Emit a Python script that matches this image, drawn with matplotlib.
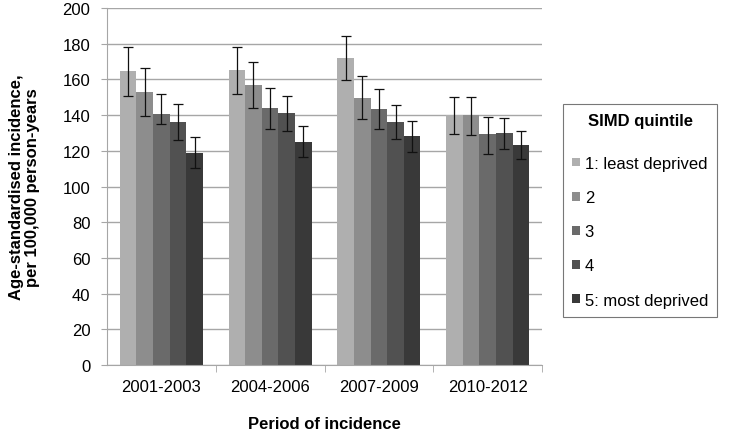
import numpy as np
import matplotlib.pyplot as plt

plt.rcParams['font.family'] = ['Liberation Sans', 'DejaVu Sans']

periods = ['2001-2003', '2004-2006', '2007-2009', '2010-2012']
quintiles = ['1: least deprived', '2', '3', '4', '5: most deprived']

# rows = quintile, columns = period
rate = [
    [164.5, 165.1, 171.8, 139.8],
    [152.7, 156.8, 149.7, 139.8],
    [140.4, 144.1, 143.4, 129.2],
    [136.1, 141.0, 136.1, 129.7],
    [118.7, 125.0, 128.2, 123.2],
]
ci_low = [
    [150.5, 152.0, 159.8, 129.5],
    [139.6, 144.1, 137.8, 129.0],
    [134.8, 132.3, 132.0, 118.3],
    [126.2, 131.0, 126.4, 120.8],
    [110.1, 116.5, 119.6, 115.2],
]
ci_high = [
    [178.3, 178.0, 184.1, 150.3],
    [166.2, 169.7, 161.7, 150.3],
    [152.0, 155.3, 154.4, 139.0],
    [146.2, 150.5, 145.6, 138.5],
    [127.7, 133.8, 136.6, 131.2],
]

colors = ['#afafaf', '#8d8d8d', '#6a6a6a', '#515151', '#393939']

fig = plt.figure(figsize=(7.31, 4.35), dpi=100)
ax = fig.add_axes([107 / 731, 1 - 366 / 435, 435 / 731, 357 / 435])

x = np.arange(len(periods))
w = 0.153
for i, q in enumerate(quintiles):
    r = np.array(rate[i])
    lo = r - np.array(ci_low[i])
    hi = np.array(ci_high[i]) - r
    ax.bar(x + (i - 2) * w, r, w, color=colors[i], label=q, zorder=2,
           yerr=[lo, hi], error_kw=dict(ecolor='#111111', elinewidth=0.9,
                                        capsize=3.5, capthick=0.9, zorder=3))

ax.set_xlim(-0.5, 3.5)
ax.set_ylim(0, 200)
ax.set_yticks(range(0, 201, 20))
ax.yaxis.grid(True, color='#a6a6a6', linewidth=1, zorder=0)
ax.set_axisbelow(True)
ax.set_xticks(x)
ax.set_xticklabels(periods, fontsize=12)
ax.set_xticks([0.5, 1.5, 2.5, 3.5], minor=True)
ax.tick_params(axis='x', which='major', length=0, pad=10)
ax.tick_params(axis='x', which='minor', length=5, color='#a6a6a6', direction='out')
ax.tick_params(axis='y', length=4, color='#a6a6a6', labelsize=12, pad=8)
for s in ['top', 'right']:
    ax.spines[s].set_visible(False)
for s in ['left', 'bottom']:
    ax.spines[s].set_color('#a6a6a6')

ax.set_ylabel('Age-standardised incidence,\nper 100,000 person-years',
              fontsize=12, fontweight='bold', labelpad=16, linespacing=1.1)
ax.set_xlabel('Period of incidence', fontsize=12, fontweight='bold', labelpad=16)

leg = ax.legend(title='SIMD quintile', loc='upper left',
                bbox_to_anchor=(563 / 731, 1 - 105 / 435), bbox_transform=fig.transFigure,
                fontsize=12, title_fontproperties={'weight': 'bold', 'size': 12},
                frameon=True, fancybox=False, edgecolor='#555555',
                handlelength=0.45, handleheight=0.45, handletextpad=0.3,
                labelspacing=1.15, borderpad=0.55, borderaxespad=0)
leg.get_frame().set_linewidth(0.8)
leg._legend_box.sep = 20

fig.savefig('out.png', dpi=100)
